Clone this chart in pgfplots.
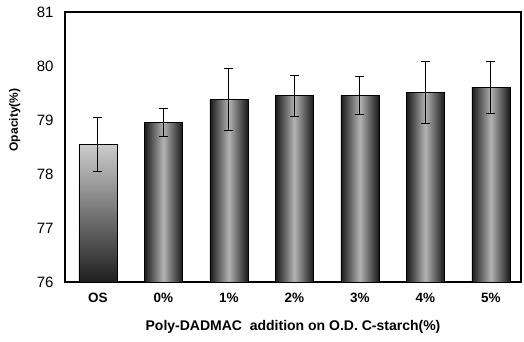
\documentclass[border=0pt]{standalone}
\usepackage{pgfplots}
\pgfplotsset{compat=1.18}
\usepackage{fontspec}
\setmainfont{Liberation Sans}
\pgfplotsset{gbar/.style={bar shift=0pt, draw=black, left color=black!90, right color=black!90, middle color=black!30}}
\begin{document}
\begin{tikzpicture}
\useasboundingbox (-65pt,-60pt) rectangle (459pt,282pt);
\begin{axis}[
  scale only axis,
  width=456pt, height=270pt,
  at={(0,0)}, anchor=south west,
  ymin=76, ymax=81,
  xmin=-0.5, xmax=6.46,
  ytick={76,77,78,79,80,81},
  xtick={0,1,2,3,4,5,6},
  xticklabels={OS,0\%,1\%,2\%,3\%,4\%,5\%},
  major tick length=0pt,
  axis line style={line width=1.4pt},
  /pgf/number format/assume math mode=true,
  yticklabel style={font=\fontsize{15}{17}\selectfont, xshift=-8pt},
  xticklabel style={font=\bfseries\fontsize{13.5}{16}\selectfont, yshift=-8pt},
  xlabel={Poly-DADMAC\ \ addition on O.D. C-starch(\%)},
  ylabel={Opacity(\%)},
  xlabel style={font=\bfseries\fontsize{14}{16}\selectfont, at={(axis description cs:0.5,0)}, anchor=center, yshift=-45pt},
  ylabel style={font=\bfseries\fontsize{12}{14}\selectfont, at={(axis description cs:-0.11,0.6)}, anchor=center},
  ybar, bar width=38pt,
  error bars/y dir=both, error bars/y explicit,
  error bars/error bar style={black, line width=1.1pt},
  error bars/error mark options={rotate=90, mark size=4.5pt, line width=1.1pt, black},
]
\addplot[bar shift=0pt, draw=black, top color=black!20, bottom color=black!88]
  coordinates {(0,78.55) +- (0,0.50)};
\addplot[gbar] coordinates {(1,78.96) +- (0,0.26)};
\addplot[gbar] coordinates {(2,79.38) +- (0,0.57)};
\addplot[gbar] coordinates {(3,79.45) +- (0,0.38)};
\addplot[gbar] coordinates {(4,79.46) +- (0,0.35)};
\addplot[gbar] coordinates {(5,79.51) +- (0,0.58)};
\addplot[gbar] coordinates {(6,79.60) +- (0,0.48)};
\end{axis}
\end{tikzpicture}
\end{document}
